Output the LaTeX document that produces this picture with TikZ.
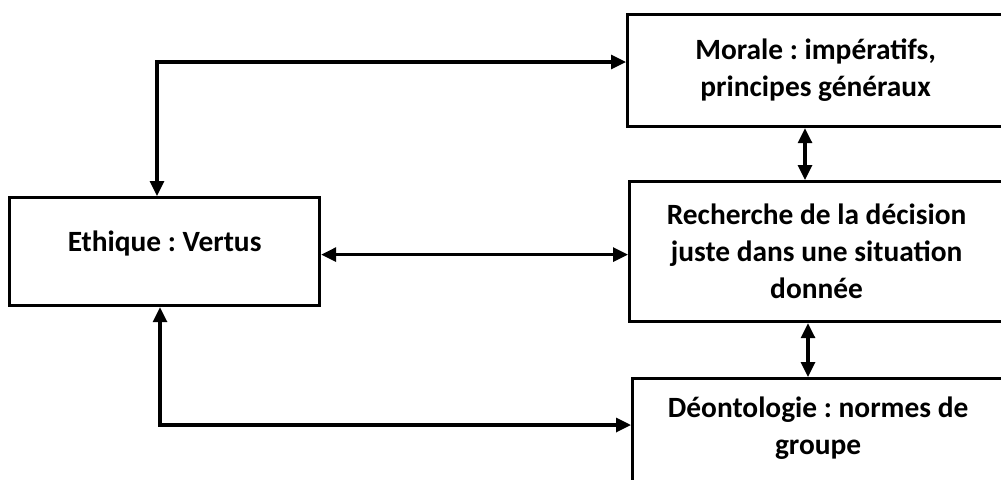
\documentclass[tikz,border=0pt]{standalone}
\usepackage{fontspec}
\setmainfont{Carlito}
\frenchspacing
\usetikzlibrary{arrows.meta}
\tikzset{
  box/.style={draw, line width=1.6pt, rectangle, anchor=north west, align=center,
    font=\bfseries\fontsize{14.7}{18.5}\selectfont, inner sep=0pt},
  link/.style={line width=1.6pt, {Triangle[length=7.5pt,width=7pt]}-{Triangle[length=7.5pt,width=7pt]}},
}
\begin{document}
\frenchspacing
\begin{tikzpicture}[x=0.5pt,y=-0.5pt]
\useasboundingbox (0,0) rectangle (1001,479);
\node[box, minimum width=188pt, minimum height=56pt] (mor) at (626,13) {Morale : impératifs,\\principes généraux};
\node[box, minimum width=187pt, minimum height=70pt] (rec) at (628,180) {Recherche de la décision\\juste dans une situation\\donnée};
\node[box, minimum width=185.5pt, minimum height=56.5pt, text depth=9pt] (deo) at (631,377) {Déontologie : normes de\\groupe};
\node[box, minimum width=155pt, minimum height=54pt, text depth=10.5pt] (eth) at (8,196) {Ethique : Vertus};
\coordinate (c1) at (157,62);
\coordinate (c2) at (160,425);
\coordinate (c4) at (805,0);
\coordinate (c5) at (808,0);
\draw[link] (c1 |- eth.north) -- (c1) -- (c1 -| mor.west);
\draw[link] (c2 |- eth.south) -- (c2) -- (c2 -| deo.west);
\draw[link] ([yshift=-1.5pt]eth.east) -- ([yshift=-1.5pt]eth.east -| rec.west);
\draw[link] (c4 |- mor.south) -- (c4 |- rec.north);
\draw[link] (c5 |- rec.south) -- (c5 |- deo.north);
\end{tikzpicture}
\end{document}
